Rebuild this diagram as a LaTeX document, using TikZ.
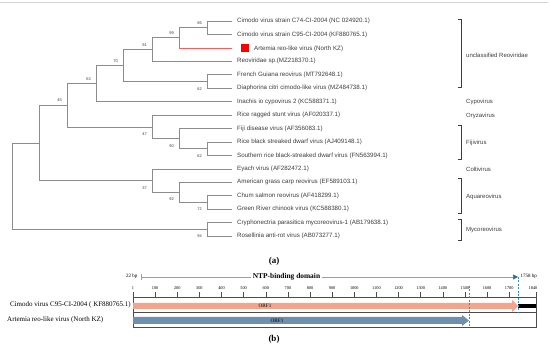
\documentclass[tikz,border=0pt]{standalone}
\usepackage{fontspec}
\setmainfont{Liberation Sans}
\newfontfamily\paperfont{Liberation Serif}
\usetikzlibrary{arrows.meta, positioning, calc}
\definecolor{branchgray}{HTML}{8C8C8C}
\definecolor{labelgray}{HTML}{3C3C3C}
\definecolor{orfpink}{HTML}{F2A58C}
\definecolor{orfblue}{HTML}{6F8FAE}
\definecolor{domainblue}{HTML}{6AAED6}
\definecolor{tipblue}{HTML}{2E6E9E}
\definecolor{dashblue}{HTML}{3C8DC4}
\tikzset{
    % tree branches, the new isolate in red
    branch/.style={draw=branchgray, line width=0.6pt},
    newbranch/.style={draw=red!65, line width=0.6pt},
    % leaf names at the tips
    leaf/.style={anchor=west, inner xsep=5pt, inner ysep=0pt,
        font=\fontsize{6.2}{7}\selectfont, text=labelgray},
    % bootstrap values, above or below the incoming branch
    bsup/.style={anchor=south east, inner sep=0pt, xshift=-5pt, yshift=3.2pt,
        font=\fontsize{4}{4}\selectfont, text=labelgray},
    bsdown/.style={anchor=north east, inner sep=0pt, xshift=-5pt, yshift=-5.6pt,
        font=\fontsize{4}{4}\selectfont, text=labelgray},
    % genus labels and brackets on the right
    clade/.style={anchor=west, inner sep=0pt, font=\fontsize{6}{7}\selectfont, text=labelgray},
    bracket/.style={draw=labelgray, line width=0.5pt},
    % genome map
    frame/.style={draw=black!70, line width=0.5pt},
    rulernum/.style={inner sep=0pt, font=\paperfont\fontsize{4.3}{5}\selectfont},
    seqname/.style={inner sep=0pt, font=\paperfont\fontsize{7}{8}\selectfont},
    orflabel/.style={inner sep=0pt, font=\paperfont\fontsize{5.2}{6}\selectfont},
    bplabel/.style={inner sep=0pt, font=\paperfont\fontsize{5}{6}\selectfont},
    guide/.style={draw=dashblue, line width=0.6pt, dash pattern=on 2pt off 1.5pt},
    panel/.style={inner sep=0pt, font=\paperfont\bfseries\fontsize{9}{10}\selectfont},
}
\newcommand{\redmark}{\hspace{4pt}\textcolor{red}{\rule[-1.5pt]{8pt}{8pt}}\hspace{5pt}}

\begin{document}
\begin{tikzpicture}[x=1pt, y=-1pt]
    \useasboundingbox (0,0) rectangle (550,350);
    \draw[gray!35, line width=1pt] (0,3) -- (548,3);

    % --- leaves ---
    \foreach \i/\txt in {
        0/{Cimodo virus strain C74-CI-2004 (NC 024920.1)},
        1/{Cimodo virus strain C95-CI-2004 (KF880765.1)},
        2/{\redmark Artemia reo-like virus (North KZ)},
        3/{Reoviridae sp.(MZ218370.1)},
        4/{French Guiana reovirus (MT792648.1)},
        5/{Diaphorina citri cimodo-like virus (MZ484738.1)},
        6/{Inachis io cypovirus 2 (KC588371.1)},
        7/{Rice ragged stunt virus (AF020337.1)},
        8/{Fiji disease virus (AF356083.1)},
        9/{Rice black streaked dwarf virus (AJ409148.1)},
        10/{Southern rice black-streaked dwarf virus (FN563994.1)},
        11/{Eyach virus (AF282472.1)},
        12/{American grass carp reovirus (EF589103.1)},
        13/{Chum salmon reovirus (AF418299.1)},
        14/{Green River chinook virus (KC588380.1)},
        15/{Cryphonectria parasitica mycoreovirus-1 (AB179638.1)},
        16/{Rosellinia anti-rot virus (AB073277.1)}}
        \node[leaf] (l\i) at (232, {21+13.44*\i}) {\txt};

    % --- internal nodes ---
    \coordinate (n86)  at (207, 27.7);
    \coordinate (n99)  at (179, 37.8);
    \coordinate (n91)  at (152, 49.6);
    \coordinate (n62a) at (207, 81.5);
    \coordinate (n70)  at (123, 65.5);
    \coordinate (n63)  at (96, 83.6);
    \coordinate (n62b) at (207, 148.7);
    \coordinate (n90)  at (179, 138.6);
    \coordinate (n47)  at (152, 126.9);
    \coordinate (n45)  at (67, 105.2);
    \coordinate (n72)  at (207, 202.4);
    \coordinate (n92)  at (179, 192.4);
    \coordinate (n37)  at (152, 180.6);
    \coordinate (nA)   at (39, 142.9);
    \coordinate (n94)  at (207, 229.3);
    \coordinate (root) at (12, 186.1);

    % elbow branches parent -> child
    \foreach \p/\c in {n86/l0.west, n86/l1.west, n99/n86, n91/n99, n91/l3.west,
        n62a/l4.west, n62a/l5.west, n70/n91, n70/n62a, n63/n70, n63/l6.west,
        n47/l7.west, n47/n90, n90/l8.west, n90/n62b, n62b/l9.west, n62b/l10.west,
        n45/n63, n45/n47, n37/l11.west, n37/n92, n92/l12.west, n92/n72,
        n72/l13.west, n72/l14.west, nA/n45, nA/n37, n94/l15.west, n94/l16.west,
        root/nA, root/n94}
        \draw[branch] (\p) |- (\c);
    \draw[newbranch] (n99) |- (l2.west);

    % bootstrap support
    \foreach \n/\v in {n86/86, n99/99, n91/91, n70/70, n63/63, n45/45}
        \node[bsup] (b-\n) at (\n) {\v};
    \foreach \n/\v in {n62a/62, n47/47, n90/90, n62b/62, n37/37, n92/92, n72/72, n94/94}
        \node[bsdown] (b-\n) at (\n) {\v};

    % --- genera ---
    \node[clade] (cUnc)  at (466, 55.7)  {unclassified Reoviridae};
    \node[clade] (cCypo) at (466, 101.6) {Cypovirus};
    \node[clade] (cOryz) at (466, 115.6) {Oryzavirus};
    \node[clade] (cFiji) at (466, 143)   {Fijivirus};
    \node[clade] (cColt) at (466, 169)   {Coltivirus};
    \node[clade] (cAqua) at (466, 196.5) {Aquareovirus};
    \node[clade] (cMyco) at (466, 230)   {Mycoreovirus};
    \draw[bracket] (458,19) -| (461,87) -- (458,87);
    \draw[bracket] (458,125) -| (461,159) -- (458,159);
    \draw[bracket] (458,178) -| (461,213) -- (458,213);
    \draw[bracket] (458,219) -| (461,240) -- (458,240);

    \node[panel] (capA) at (274, 261) {(a)};

    % --- NTP-binding domain ---
    \coordinate (ntpL) at (141, 277);
    \coordinate (ntpR) at (518, 277);
    \draw[domainblue, line width=0.6pt] (141,274) -- (141,280);
    \draw[domainblue, line width=0.6pt, -{Triangle[length=5pt, width=5pt, color=tipblue]}] (ntpL) -- (ntpR);
    \node[fill=white, inner xsep=2pt, inner ysep=0pt,
        font=\paperfont\bfseries\fontsize{7.4}{8}\selectfont] (ntp) at (286.5, 276.5) {NTP-binding domain};
    \node[bplabel, anchor=east] (bp22) at (137.5, 276.5) {22 bp};
    \node[bplabel, anchor=west] (bp1758) at (520.5, 276.5) {1758 bp};

    % --- ruler and frame ---
    \draw[frame] (133,297) rectangle (536,327);
    \draw[frame] (133,312.5) -- (536,312.5);
    \foreach \k/\lab in {0/1, 1/100, 2/200, 3/300, 4/400, 5/500, 6/600, 7/700, 8/800,
        9/900, 10/1000, 11/1100, 12/1200, 13/1300, 14/1400, 15/1500, 16/1600, 17/1700}{
        \draw[frame] ({133+22.13*\k}, 297) -- ++(0,-5);
        \node[rulernum] (t\k) at ({133+22.13*\k}, 288) {\lab};
    }
    \draw[frame] (536,297) -- (536,292);
    \node[rulernum] (tEnd) at (533, 288) {1840};

    % --- ORFs ---
    \fill[orfpink] (133,303) -- (512,303) -- (512,300) -- (518,306) -- (512,312) -- (512,309) -- (133,309) -- cycle;
    \fill[black] (518,304) rectangle (536,308);
    \fill[orfblue] (133,317) -- (462,317) -- (462,315) -- (469,320.5) -- (462,326) -- (462,324) -- (133,324) -- cycle;
    \node[orflabel] (orfA) at (265, 306) {ORF1};
    \node[orflabel] (orfB) at (277, 320.5) {ORF1};
    \draw[guide] (469,286) -- (469,328);
    \draw[guide] (518,277) -- (518,313);

    \node[seqname, anchor=east] (seqA) at (131, 305) {Cimodo virus C95-CI-2004 ( KF880765.1)};
    \node[seqname, anchor=west] (seqB) at (7, 320) {Artemia reo-like virus (North KZ)};

    \node[panel] (capB) at (274, 339) {(b)};
\end{tikzpicture}
\end{document}
